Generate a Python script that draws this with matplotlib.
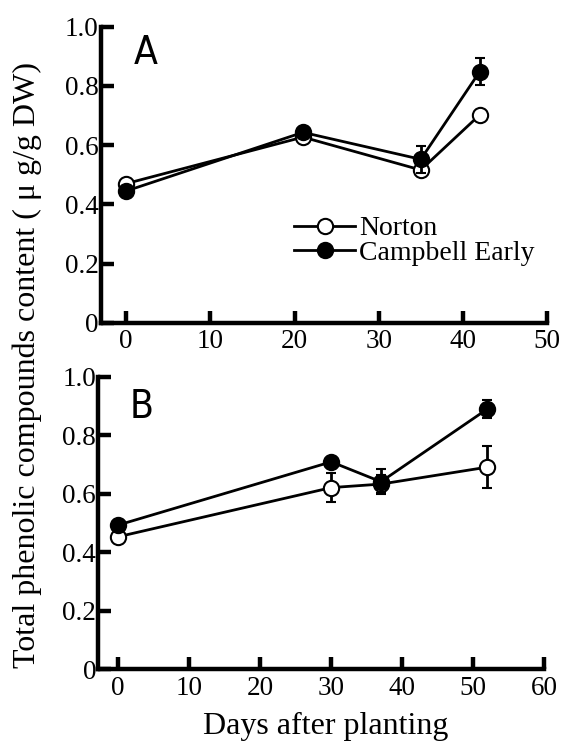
import matplotlib
matplotlib.use("Agg")
import matplotlib.pyplot as plt

# Panel A data
days_a = [0, 21, 35, 42]
norton_a = [0.47, 0.627, 0.516, 0.702]
norton_a_err = [0.01, 0.01, 0.01, 0.01]
campbell_a = [0.445, 0.643, 0.552, 0.848]
campbell_a_err = [0.01, 0.01, 0.046, 0.045]

# Panel B data
days_b = [0, 30, 37, 52]
norton_b = [0.453, 0.621, 0.633, 0.691]
norton_b_err = [0.01, 0.05, 0.03, 0.071]
campbell_b = [0.493, 0.709, 0.641, 0.89]
campbell_b_err = [0.01, 0.01, 0.043, 0.032]

yticks = [0, 0.2, 0.4, 0.6, 0.8, 1.0]
ytick_labels = ["0", "0.2", "0.4", "0.6", "0.8", "1.0"]
xticks_a = [0, 10, 20, 30, 40, 50]
xticks_b = [0, 10, 20, 30, 40, 50, 60]

plt.rcParams['font.family'] = ['Liberation Serif', 'DejaVu Serif']

fig = plt.figure(figsize=(5.63, 7.42), dpi=100)
axA = fig.add_axes([100.5/563, 1-322.7/742, (547-100.5)/563, (322.7-26.7)/742])
axB = fig.add_axes([98.3/563, 1-669.3/742, (544.3-98.3)/563, (669.3-376.7)/742])

def style(ax, xticks, xmin, xmax):
    ax.set_xlim(xmin, xmax)
    ax.set_ylim(0, 1.0)
    for s in ['top', 'right']:
        ax.spines[s].set_visible(False)
    for s in ['left', 'bottom']:
        ax.spines[s].set_linewidth(3.2)
    ax.set_xticks(xticks)
    ax.set_xticklabels([str(t) for t in xticks])
    ax.set_yticks(yticks)
    ax.set_yticklabels(ytick_labels)
    ax.tick_params(direction='in', length=9, width=3.2, labelsize=19.5)
    ax.tick_params(axis='y', pad=1.5)
    ax.tick_params(axis='x', pad=4.5)

def plot_series(ax, x, y, e, filled, label):
    ax.errorbar(x, y, yerr=e, color='black', lw=2, marker='o', ms=11,
                mfc='black' if filled else 'white', mec='black', mew=1.5,
                capsize=3.6, capthick=2, elinewidth=2, clip_on=False,
                label=label, zorder=3 if filled else 2)

style(axA, xticks_a, -3.06, 50)
plot_series(axA, days_a, norton_a, norton_a_err, False, 'Norton')
plot_series(axA, days_a, campbell_a, campbell_a_err, True, 'Campbell Early')
axA.text(0.075, 0.875, 'A', transform=axA.transAxes, fontsize=28,
         family='DejaVu Sans', stretch='condensed', ha='left', va='baseline')

handles, labels = axA.get_legend_handles_labels()
leg = axA.legend([h[0] for h in handles], labels, loc='upper left',
                 bbox_to_anchor=((294-100.5)/446.5, (322.7-216)/296),
                 frameon=False, fontsize=20, handlelength=2.2,
                 handletextpad=0.15, labelspacing=-0.05, borderpad=0,
                 borderaxespad=0)

style(axB, xticks_b, -2.8, 60)
plot_series(axB, days_b, norton_b, norton_b_err, False, 'Norton')
plot_series(axB, days_b, campbell_b, campbell_b_err, True, 'Campbell Early')
axB.text(0.07, 0.86, 'B', transform=axB.transAxes, fontsize=28,
         family='DejaVu Sans', stretch='condensed', ha='left', va='baseline')

fig.text(27/563, 1-365/742, 'Total phenolic compounds content ( μ g/g DW)',
         rotation=90, ha='center', va='center', fontsize=23)
fig.text(326/563, 1-726/742, 'Days after planting', ha='center', va='center',
         fontsize=23)

fig.savefig('out.png', dpi=100)
